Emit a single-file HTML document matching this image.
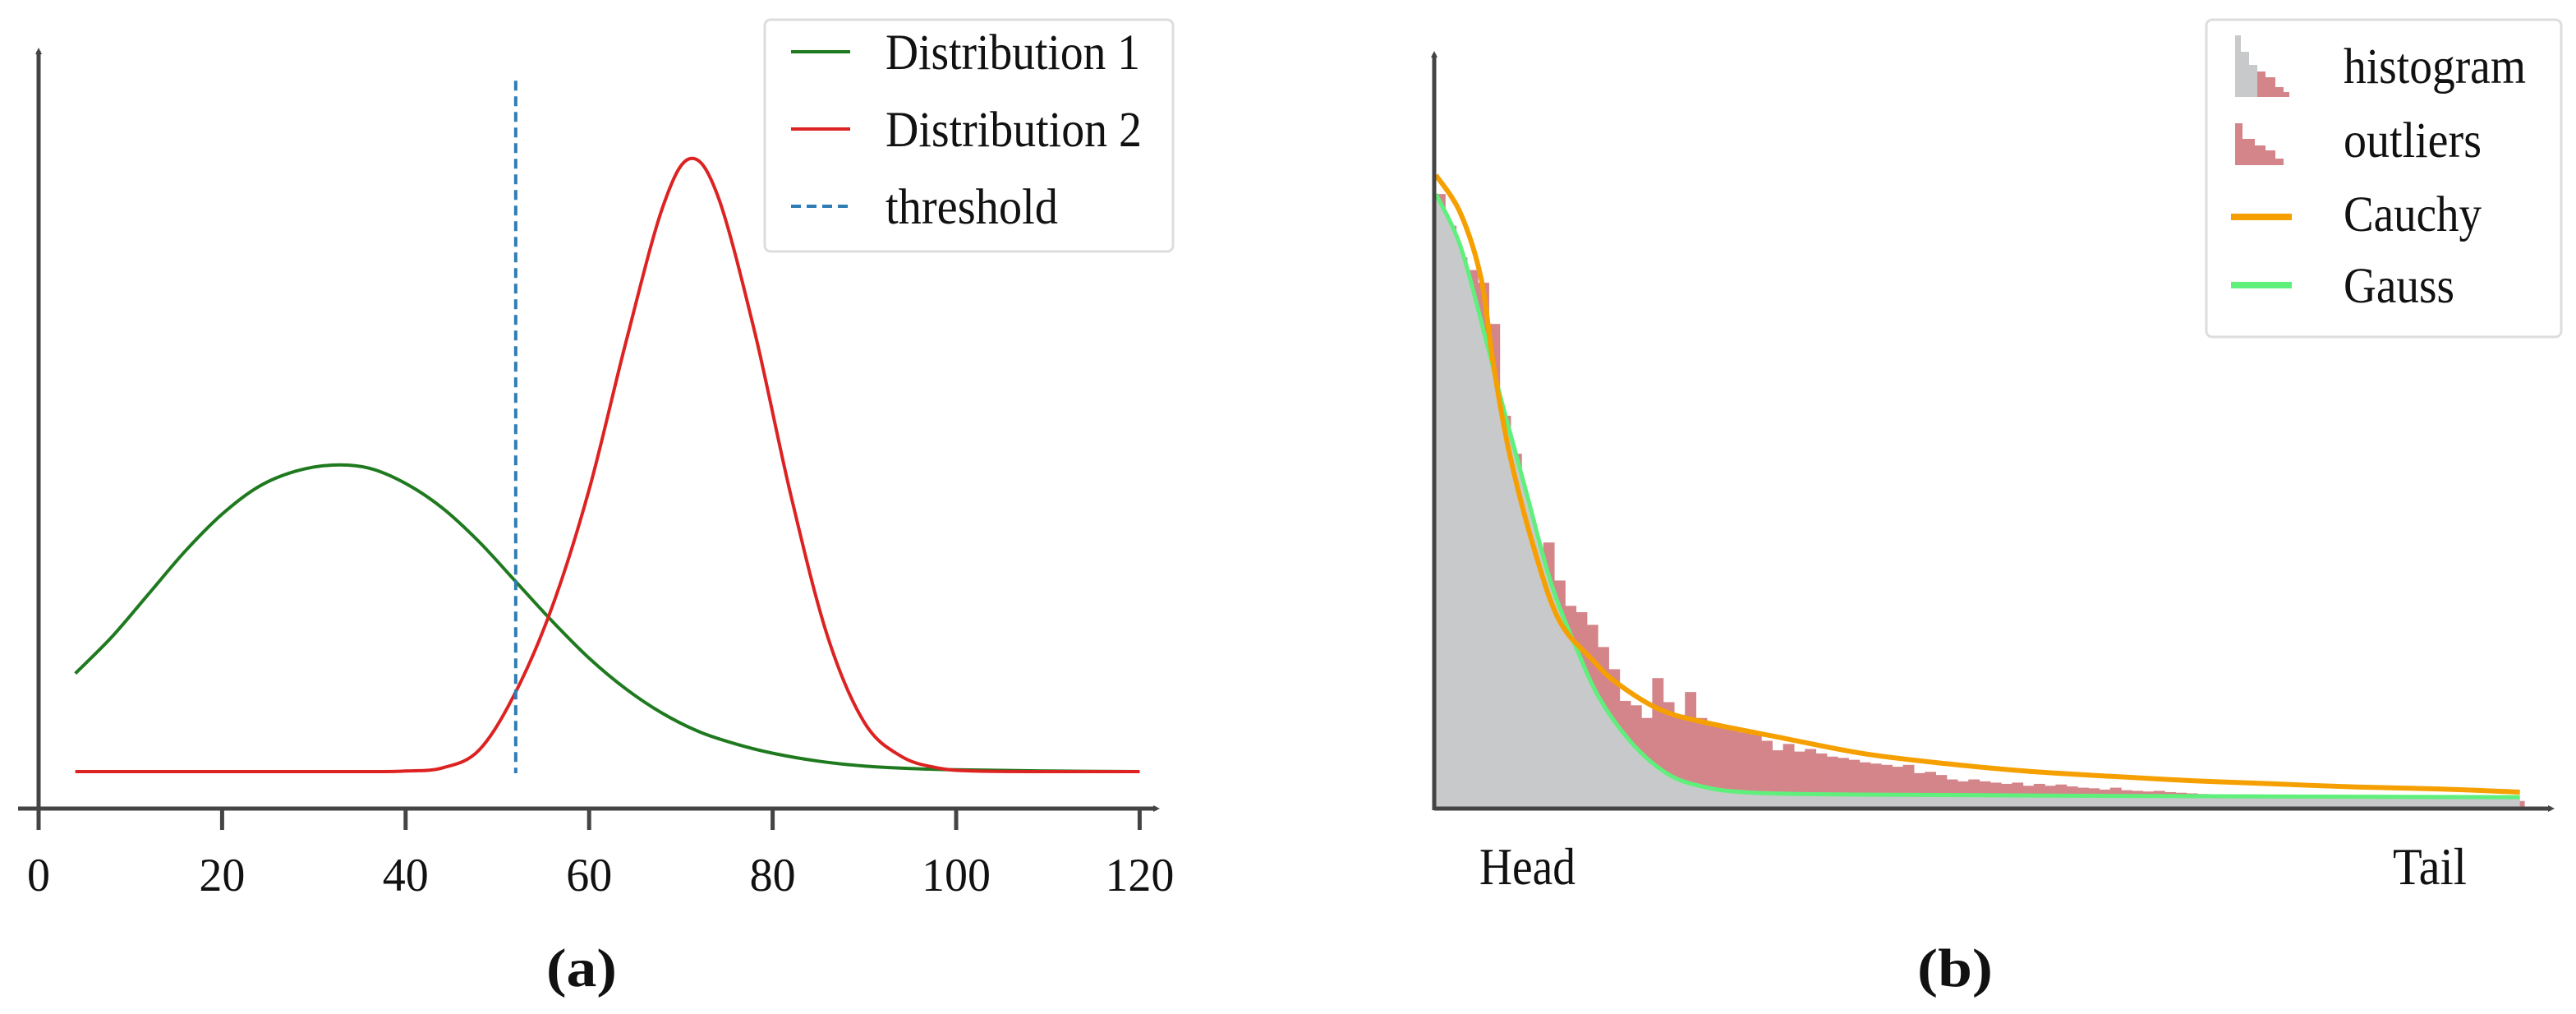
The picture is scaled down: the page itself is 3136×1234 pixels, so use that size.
<!DOCTYPE html>
<html><head><meta charset="utf-8"><style>
html,body{margin:0;padding:0;background:#fff;overflow:hidden;}
svg{display:block;}
text{font-family:"Liberation Serif",serif;fill:#111;}
</style></head><body>
<svg id="chart" width="3136" height="1234" viewBox="0 0 3136 1234" xmlns="http://www.w3.org/2000/svg">
<defs>
<marker id="arr" markerWidth="8" markerHeight="8" refX="4" refY="4" orient="auto" markerUnits="userSpaceOnUse"><path d="M0,0 L8,4 L0,8 z" fill="#444"/></marker>
</defs>
<g id="pa"></g>
<g id="pb"></g>
</svg>
<script>
// ---- Panel (a) data ----
const aTicks = [0,20,40,60,80,100,120];
const d1X = [4,8,12,16,20,24,28,32,36,40,44,48,52,56,60,64,68,72,76,80,85,90,95,100,110,120];
const d1Y = [0.16,0.22,0.29,0.36,0.42,0.465,0.49,0.50,0.495,0.47,0.43,0.375,0.31,0.245,0.185,0.135,0.095,0.065,0.045,0.03,0.017,0.009,0.005,0.003,0.001,0];
const d2X = [4,20,36,40,44,48,52,56,60,64,68,71,74,78,82,86,90,94,98,102,110,120];
const d2Y = [0,0,0,0.001,0.006,0.035,0.13,0.27,0.46,0.7,0.92,1.0,0.94,0.72,0.45,0.22,0.08,0.025,0.006,0.001,0,0];
const thresholdX = [52];
const thresholdTop = [1.127];
const aLegend = ["Distribution 1","Distribution 2","threshold"];

// ---- Panel (b) data ----
const histVals = [0.97,0.92,0.87,0.85,0.83,0.765,0.62,0.56,0.47,0.41,0.42,0.36,0.32,0.31,0.29,0.255,0.22,0.17,0.163,0.143,
0.206,0.168,0.148,0.184,0.143,0.135,0.13,0.125,0.12,0.117,0.107,0.092,0.102,0.09,0.094,0.087,0.082,0.08,0.077,0.073,
0.071,0.069,0.066,0.069,0.056,0.058,0.053,0.046,0.043,0.046,0.043,0.041,0.039,0.041,0.036,0.039,0.036,0.038,0.035,0.033,
0.032,0.03,0.033,0.029,0.028,0.027,0.028,0.026,0.025,0.024,0.023,0.022,0.021,0.02,0.02,0.019,0.019,0.018,0.018,0.017,
0.017,0.016,0.016,0.016,0.015,0.015,0.015,0.015,0.014,0.014,0.014,0.014,0.013,0.013,0.013,0.013,0.012,0.012,0.012,0.012];
const gaussX = [0.15,2.4,4.67,6.18,8.44,10.7,13,15.2,18.2,21.3,24.3,28.8,39.3,62,99.6];
const gaussY = [0.97,0.888,0.745,0.643,0.5,0.357,0.255,0.173,0.102,0.056,0.036,0.0255,0.022,0.02,0.018];
const cauchyX = [0.15,2.4,4.3,5.4,6.9,9.2,11.5,14.5,16.7,20.5,24.3,31.8,39.3,46.9,54.4,62,69.5,77,84.6,92.1,99.6];
const cauchyY = [1.0,0.94,0.837,0.704,0.561,0.408,0.296,0.235,0.199,0.158,0.138,0.112,0.087,0.071,0.059,0.051,0.044,0.039,0.034,0.031,0.026];
const bLegend = ["histogram","outliers","Cauchy","Gauss"];
const bAxisLabels = ["Head","Tail"];

const NS="http://www.w3.org/2000/svg";
function mk(parent,tag,attrs,txt){const e=document.createElementNS(NS,tag);for(const k in attrs)e.setAttribute(k,attrs[k]);if(txt!==undefined)e.textContent=txt;parent.appendChild(e);return e;}
function smooth(pts){let d="M"+pts[0][0]+","+pts[0][1];for(let i=0;i<pts.length-1;i++){const p0=pts[Math.max(0,i-1)],p1=pts[i],p2=pts[i+1],p3=pts[Math.min(pts.length-1,i+2)];
const c1=[p1[0]+(p2[0]-p0[0])/6,p1[1]+(p2[1]-p0[1])/6],c2=[p2[0]-(p3[0]-p1[0])/6,p2[1]-(p3[1]-p1[1])/6];d+=" C"+c1+" "+c2+" "+p2;}return d;}

// Panel a
const pa=document.getElementById('pa');
const ax=v=>47+v*11.17, ay=v=>939-v*746;
let e;
e=mk(pa,'line',{x1:47,y1:986,x2:47,y2:62,stroke:'#444','stroke-width':5,'marker-end':'url(#arr)'});


e=mk(pa,'line',{x1:22,y1:984,x2:1408,y2:984,stroke:'#444','stroke-width':5,'marker-end':'url(#arr)'});


aTicks.forEach(t=>{
 e=mk(pa,'line',{x1:ax(t),y1:984,x2:ax(t),y2:1010,stroke:'#444','stroke-width':5});
 
 
 const s=String(t);
 e=mk(pa,'text',{x:ax(t),y:1084,'font-size':57,'text-anchor':'middle',textLength:s.length*28,lengthAdjust:'spacingAndGlyphs'},s);
 
 
});
e=mk(pa,'path',{d:smooth(d1X.map((x,i)=>[ax(x),ay(d1Y[i])])),fill:'none',stroke:'#1f7a1f','stroke-width':4});


e=mk(pa,'path',{d:smooth(d2X.map((x,i)=>[ax(x),ay(d2Y[i])])),fill:'none',stroke:'#dd2222','stroke-width':4});


e=mk(pa,'line',{x1:ax(thresholdX[0]),y1:ay(thresholdTop[0]),x2:ax(thresholdX[0]),y2:ay(0)+2,stroke:'#2f7db5','stroke-width':4,'stroke-dasharray':'12,7'});


e=mk(pa,'rect',{x:931,y:24,width:497,height:282,rx:7,fill:'#fff',stroke:'#ddd','stroke-width':3});


const aCols=['#1f7a1f','#dd2222','#2f7db5'];
aLegend.forEach((t,i)=>{const y=63+i*94;
 e=mk(pa,'line',{x1:963,y1:y,x2:1035,y2:y,stroke:aCols[i],'stroke-width':4,'stroke-dasharray':i==2?'12,7':'none'});
 
 
 e=mk(pa,'text',{x:1078,y:y+21,'font-size':61,textLength:[310,312,210][i],lengthAdjust:'spacingAndGlyphs'},t);
 
 
});
e=mk(pa,'text',{x:708,y:1200,'font-size':66,'font-weight':'bold','text-anchor':'middle',textLength:86,lengthAdjust:'spacingAndGlyphs'},'(a)');



// Panel b
const pb=document.getElementById('pb');
const X0=1746, BW=13.27, BY=984, BH=771;
const bx=u=>X0+u*BW, by=v=>BY-v*BH;
histVals.forEach((v,i)=>{
 e=mk(pb,'rect',{x:bx(i),y:by(v),width:BW+0.6,height:BY-by(v),fill:'#d4858a'});
 
 
});
const gp=gaussX.map((x,i)=>[bx(x),by(gaussY[i])]);
e=mk(pb,'path',{d:smooth(gp)+" L"+bx(gaussX[gaussX.length-1])+","+BY+" L"+X0+","+BY+" Z",fill:'#c8c9cb'});


e=mk(pb,'path',{d:smooth(gp),fill:'none',stroke:'#5ff07c','stroke-width':5});


e=mk(pb,'path',{d:smooth(cauchyX.map((x,i)=>[bx(x),by(cauchyY[i])])),fill:'none',stroke:'#f5a000','stroke-width':6});


e=mk(pb,'line',{x1:X0,y1:986,x2:X0,y2:66,stroke:'#444','stroke-width':5,'marker-end':'url(#arr)'});


e=mk(pb,'line',{x1:X0,y1:984,x2:3106,y2:984,stroke:'#444','stroke-width':5,'marker-end':'url(#arr)'});


e=mk(pb,'text',{x:1801,y:1076,'font-size':63,textLength:117,lengthAdjust:'spacingAndGlyphs'},bAxisLabels[0]);


e=mk(pb,'text',{x:2913,y:1076,'font-size':63,textLength:90,lengthAdjust:'spacingAndGlyphs'},bAxisLabels[1]);


e=mk(pb,'rect',{x:2686,y:24,width:432,height:386,rx:7,fill:'#fff',stroke:'#ddd','stroke-width':3});


e=mk(pb,'path',{d:'M2721,118 L2721,43 L2728,43 L2728,63 L2738,63 L2738,79 L2748,79 L2748,118 Z',fill:'#c8c9cb'});


mk(pb,'path',{d:'M2748,118 L2748,87 L2758,87 L2758,94 L2770,94 L2770,106 L2780,106 L2780,112 L2787,112 L2787,118 Z',fill:'#d4858a'});
e=mk(pb,'path',{d:'M2721,201 L2721,150 L2730,150 L2730,169 L2745,169 L2745,177 L2758,177 L2758,183 L2770,183 L2770,193 L2780,193 L2780,201 Z',fill:'#d4858a'});


e=mk(pb,'line',{x1:2716,y1:264,x2:2790,y2:264,stroke:'#f5a000','stroke-width':8});


e=mk(pb,'line',{x1:2716,y1:347,x2:2790,y2:347,stroke:'#5ff07c','stroke-width':8});


const bLy=[101,191,281,368], bLw=[222,168,168,135];
bLegend.forEach((t,i)=>{
 e=mk(pb,'text',{x:2853,y:bLy[i],'font-size':61,textLength:bLw[i],lengthAdjust:'spacingAndGlyphs'},t);
 
 
});
e=mk(pb,'text',{x:2380,y:1200,'font-size':66,'font-weight':'bold','text-anchor':'middle',textLength:92,lengthAdjust:'spacingAndGlyphs'},'(b)');


</script>
</body></html>
